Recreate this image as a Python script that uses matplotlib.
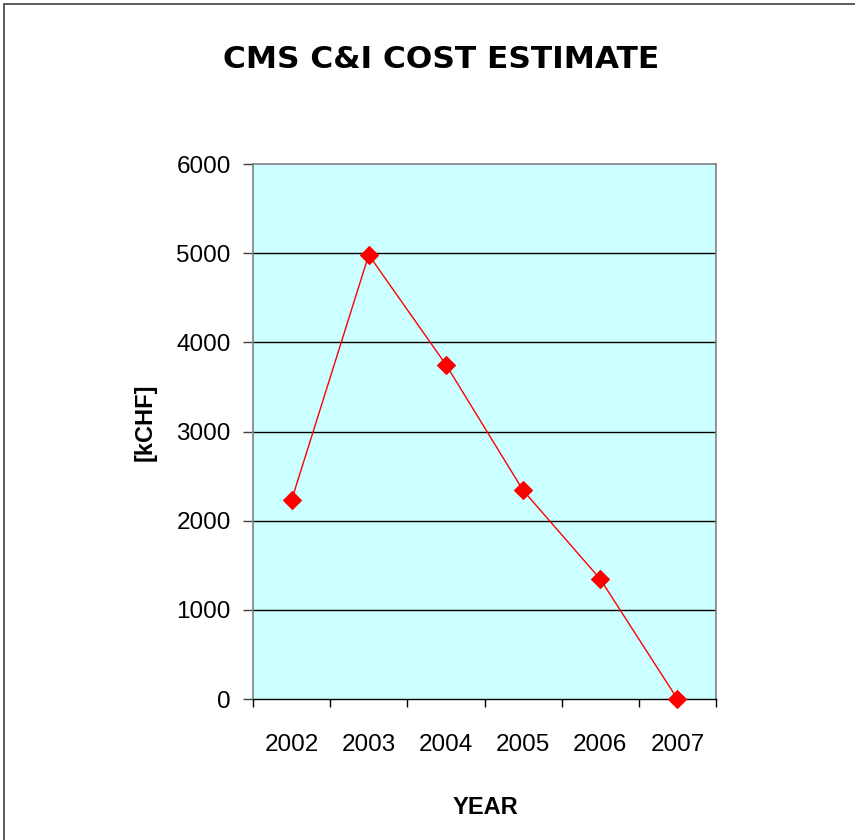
import matplotlib.pyplot as plt
from matplotlib.patches import Rectangle
from matplotlib.ticker import FixedLocator, NullFormatter

years = ['2002', '2003', '2004', '2005', '2006', '2007']
cost = [2230, 4980, 3750, 2340, 1345, 0]
y_ticks = [0, 1000, 2000, 3000, 4000, 5000, 6000]

plt.rcParams['font.family'] = ['Liberation Sans', 'DejaVu Sans']

fig = plt.figure(figsize=(8.55, 8.4), dpi=100)
ax = fig.add_axes([253 / 855, 1 - 699 / 840, 463 / 855, 535 / 840])
ax.set_facecolor('#CCFFFF')

# outer chart frame, only left and top edges visible in the picture
fig.add_artist(Rectangle((4 / 855, -0.1), 1.2, 1.1 - 4 / 840, transform=fig.transFigure,
                         fill=False, ec='#404040', lw=1.2))

x = list(range(len(years)))
ax.plot(x, cost, color='red', lw=1, marker='D', ms=9, mec='red', mew=0.8, zorder=3, clip_on=False)

ax.set_xlim(-0.5, len(years) - 0.5)
ax.set_ylim(0, 6000)

# category boundaries get the tick marks, labels sit in the middle
ax.xaxis.set_major_locator(FixedLocator([i - 0.5 for i in range(len(years) + 1)]))
ax.xaxis.set_major_formatter(NullFormatter())
ax.xaxis.set_minor_locator(FixedLocator(x))
ax.set_xticklabels(years, minor=True)
ax.tick_params(axis='x', which='major', direction='out', length=6, width=1, color='black')
ax.tick_params(axis='x', which='minor', length=0, pad=25, labelsize=17.5)

ax.set_yticks(y_ticks)
ax.tick_params(axis='y', direction='out', length=7, width=1, color='#404040', pad=9, labelsize=17.5)

for v in y_ticks[1:-1]:
    ax.axhline(v, color='black', lw=1, zorder=1)

for side in ['top', 'right', 'left']:
    ax.spines[side].set_color('#808080')
    ax.spines[side].set_linewidth(1.2)
ax.spines['bottom'].set_color('black')
ax.spines['bottom'].set_linewidth(1)

fig.text(441 / 855, 1 - 60 / 840, 'CMS C&I COST ESTIMATE', ha='center', va='center',
         fontsize=22.5, fontweight='bold', family='DejaVu Sans')
fig.text(485 / 855, 1 - 807 / 840, 'YEAR', ha='center', va='center', fontsize=17, fontweight='bold')
fig.text(145 / 855, 1 - 422 / 840, '[kCHF]', ha='center', va='center', rotation=90,
         fontsize=17, fontweight='bold')

fig.savefig('out.png', dpi=100)
